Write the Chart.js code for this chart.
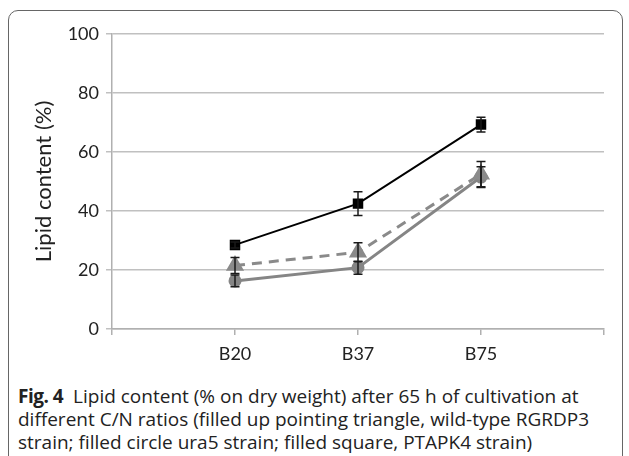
<!DOCTYPE html>
<html><head><meta charset="utf-8">
<script src="https://cdn.jsdelivr.net/npm/chart.js@4/dist/chart.umd.min.js"></script>
<style>
html,body{margin:0;padding:0;background:#fff;width:629px;height:456px;overflow:hidden;}
#frame{position:absolute;left:8px;top:10px;width:615px;height:470px;border:1.5px solid #666;border-radius:10px;box-sizing:border-box;}
#wrap{position:absolute;left:0;top:0;width:629px;height:375px;}
#cap{position:absolute;left:18px;top:385px;font-family:"Open Sans",sans-serif;font-size:19px;line-height:23px;color:#222;white-space:nowrap;}
#cap b{letter-spacing:-0.5px;}
</style></head><body>
<div id="frame"></div>
<div id="wrap"><canvas id="c" width="629" height="375"></canvas></div>
<div id="cap"><b>Fig. 4</b>&nbsp; Lipid content (% on dry weight) after 65 h of cultivation at<br>different C/N ratios (filled up pointing triangle, wild-type RGRDP3<br>strain; filled circle ura5 strain; filled square, PTAPK4 strain)</div>
<script>
const categories = ['', 'B20', 'B37', 'B75', ''];
const yTicks = [0, 20, 40, 60, 80, 100];
const squareVals = [null, 28.5, 42.5, 69.3, null];
const squareErr  = [null, 1.0, 4.0, 2.5, null];
const circleVals = [null, 16.3, 20.8, 51.5, null];
const circleErr  = [null, 2.0, 2.2, 3.5, null];
const triVals    = [null, 21.5, 26.0, 52.5, null];
const triErr     = [null, 2.7, 3.2, 4.3, null];

const errPlugin = {
  id: 'errbars',
  afterDatasetsDraw(chart) {
    const ctx = chart.ctx, ys = chart.scales.y, xs = chart.scales.x;
    chart.data.datasets.forEach(ds => {
      if (!ds.err) return;
      ds.data.forEach((v, i) => {
        if (v == null || ds.err[i] == null) return;
        const x = xs.getPixelForValue(i);
        const y1 = ys.getPixelForValue(v + ds.err[i]);
        const y2 = ys.getPixelForValue(v - ds.err[i]);
        ctx.save();
        ctx.strokeStyle = '#1a1a1a';
        ctx.lineWidth = 1.5;
        ctx.beginPath();
        ctx.moveTo(x, y1); ctx.lineTo(x, y2);
        ctx.moveTo(x - 4.5, y1); ctx.lineTo(x + 4.5, y1);
        ctx.moveTo(x - 4.5, y2); ctx.lineTo(x + 4.5, y2);
        ctx.stroke();
        ctx.restore();
      });
    });
  }
};

new Chart(document.getElementById('c'), {
  type: 'line',
  data: {
    labels: categories,
    datasets: [
      { label: 'PTAPK4', data: squareVals, err: squareErr, borderColor: '#000', backgroundColor: '#000', borderWidth: 2, pointStyle: 'rect', pointRadius: 6, order: 3 },
      { label: 'ura5', data: circleVals, err: circleErr, borderColor: '#858585', backgroundColor: '#858585', borderWidth: 3, pointStyle: 'circle', pointRadius: 5, order: 2 },
      { label: 'RGRDP3', data: triVals, err: triErr, borderColor: '#8a8a8a', backgroundColor: '#8a8a8a', borderWidth: 3, borderDash: [10, 7], pointStyle: 'triangle', pointRadius: 7.5, order: 1 }
    ]
  },
  options: {
    responsive: false,
    animation: false,
    layout: { padding: { left: 0, right: 25, top: 34, bottom: 0 } },
    plugins: { legend: { display: false }, tooltip: { enabled: false } },
    scales: {
      x: {
        offset: false,
        afterFit(s) { s.height = 46; },
        grid: { drawOnChartArea: false, drawTicks: true, tickLength: 6, color: '#b0b0b0', lineWidth: 1.5 },
        border: { display: true, color: '#b0b0b0', width: 1.5 },
        ticks: { color: '#222', font: { family: 'Lato', size: 18 }, padding: 8, maxRotation: 0, autoSkip: false }
      },
      y: {
        min: 0, max: 100,
        afterFit(s) { s.width = 112; },
        afterBuildTicks(s) { s.ticks = yTicks.map(v => ({ value: v })); },
        grid: { color: '#c0c0c0', lineWidth: 1.5, tickLength: 6 },
        border: { display: true, color: '#b0b0b0', width: 1.5 },
        ticks: { color: '#222', font: { family: 'Lato', size: 18 }, padding: 7 },
        title: { display: true, text: 'Lipid content (%)', color: '#222', font: { family: 'Lato', size: 22 }, padding: { top: 31, bottom: 0 } }
      }
    }
  },
  plugins: [errPlugin]
});
</script>
</body></html>
